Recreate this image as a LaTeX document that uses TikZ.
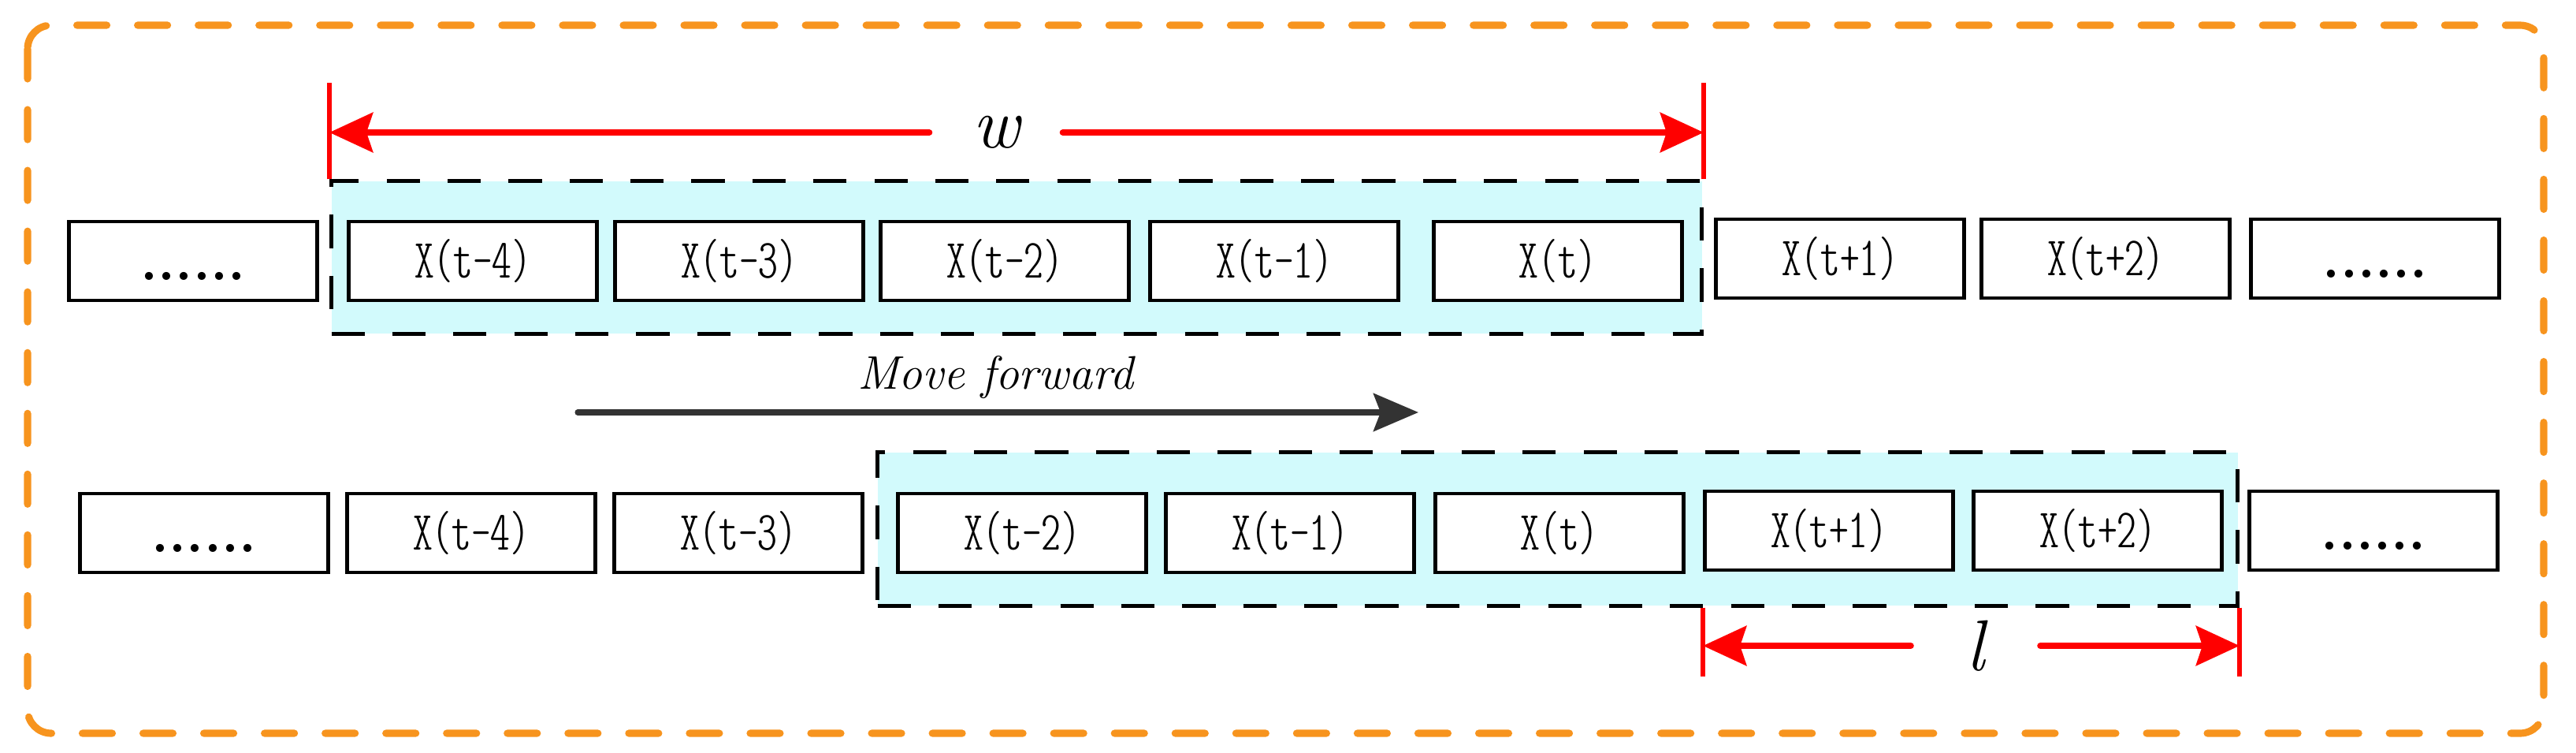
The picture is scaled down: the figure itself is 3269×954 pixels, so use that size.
\documentclass[tikz,border=0pt]{standalone}
\usepackage{xcolor}
\usepackage{tikz}
\usetikzlibrary{positioning,calc,arrows.meta}

\definecolor{frameorange}{RGB}{247,148,30}
\definecolor{wincyan}{RGB}{210,250,252}
\definecolor{movegray}{RGB}{51,51,51}

\begin{document}
\begin{tikzpicture}[
						x=0.01cm, y=-0.01cm,
						cell/.style={
							draw=black, line width=1.3pt, fill=white,
							minimum width=3.15cm, minimum height=1.0cm, inner sep=0pt,
							font=\fontseries{lc}\ttfamily\fontsize{20}{24}\selectfont,
							anchor=center
						},
						dots_cell/.style={
							cell, font=\bfseries\fontsize{20}{24}\selectfont,
							text height=0.48cm, text depth=0cm
						},
						window/.style={
							draw=black, line width=1.4pt, dash pattern=on 12pt off 10pt,
							fill=wincyan, inner sep=0pt
						},
						dim_line/.style={
							red, line width=1.7pt
						},
						dim_arrow/.style={
							-{Stealth[length=0.55cm, width=0.5cm, inset=0.08cm]}, red, line width=2.3pt, line cap=round
						},
						dim_text/.style={
							font=\itshape\fontsize{26}{30}\selectfont, inner sep=0pt, minimum height=0.6cm
						},
						move_arrow/.style={
							-{Stealth[length=0.57cm, width=0.48cm, inset=0.09cm]}, movegray, line width=2pt, line cap=round
						},
						move_text/.style={
							font=\itshape\fontsize{17}{20}\selectfont, inner sep=0pt
						},
						frame_style/.style={
							frameorange, line width=2.6pt, dash pattern=on 0.38cm off 0.39cm,
							line cap=round, rounded corners=0.3cm
						}
						]
						\useasboundingbox (0,0) rectangle (3269,954);
						
						% === FRAME ===
						\draw[frame_style] (35,32) rectangle (3228,930);
						
						% === WINDOWS (w and shifted) ===
						\node[window, minimum width=17.38cm, minimum height=1.93cm] (w1) at (1290,326.5) {};
						\node[window, minimum width=17.25cm, minimum height=1.94cm] (w2) at (1976.5,671) {};
						
						% === ROW A (Top) ===
						\node[dots_cell] (a1) at (245,331) {......};
						% Data: X(t-4) ... X(t)
						\foreach \x/\val [count=\i from 2] in {600/X(t-4), 938/X(t-3), 1275/X(t-2), 1617/X(t-1), 1977/X(t)} {
							\node[cell] (a\i) at (\x, 331) {\val};
						}
						\foreach \x/\val [count=\i from 7] in {2335/X(t+1), 2672/X(t+2)} {
							\node[cell] (a\i) at (\x, 328) {\val};
						}
						\node[dots_cell] (a9) at (3014,328) {......};
						
						% === ROW B (Bottom) ===
						\node[dots_cell] (b1) at (259,676) {......};
						\foreach \x/\val [count=\i from 2] in {598/X(t-4), 937/X(t-3), 1297/X(t-2), 1637/X(t-1), 1979/X(t)} {
							\node[cell] (b\i) at (\x, 676) {\val};
						}
						\foreach \x/\val [count=\i from 7] in {2321/X(t+1), 2662/X(t+2)} {
							\node[cell] (b\i) at (\x, 673) {\val};
						}
						\node[dots_cell] (b9) at (3012,673) {......};
						
						% Window size w
						\draw[dim_line] (w1.north west) -- ++(0,-122);
						\draw[dim_line] (w1.north east) -- ++(0,-122);
						\node[dim_text, minimum width=1.68cm] (w_lab) at (1264,168) {w};
						\draw[dim_arrow] (w_lab) -- (w_lab -| w1.west);
						\draw[dim_arrow] (w_lab) -- (w_lab -| w1.east);
						
						% Step l
						\coordinate (l_left) at (b7.west |- w2.south);
						\draw[dim_line] (l_left) -- ++(0,87);
						\draw[dim_line] (w2.south east) -- ++(0,87);
						\node[dim_text, minimum width=1.63cm] (l_lab) at (2507,819) {l};
						\draw[dim_arrow] (l_lab) -- (l_lab -| l_left);
						\draw[dim_arrow] (l_lab) -- (l_lab -| w2.east);
						
						% Move forward
						\coordinate (mv_start) at (733,523);
						\coordinate (mv_end) at (1800,523);
						\draw[move_arrow] (mv_start) -- (mv_end);
						\node[move_text, anchor=base] (mv_lab) at (1263,493) {Move forward};
						
					\end{tikzpicture}
\end{document}
